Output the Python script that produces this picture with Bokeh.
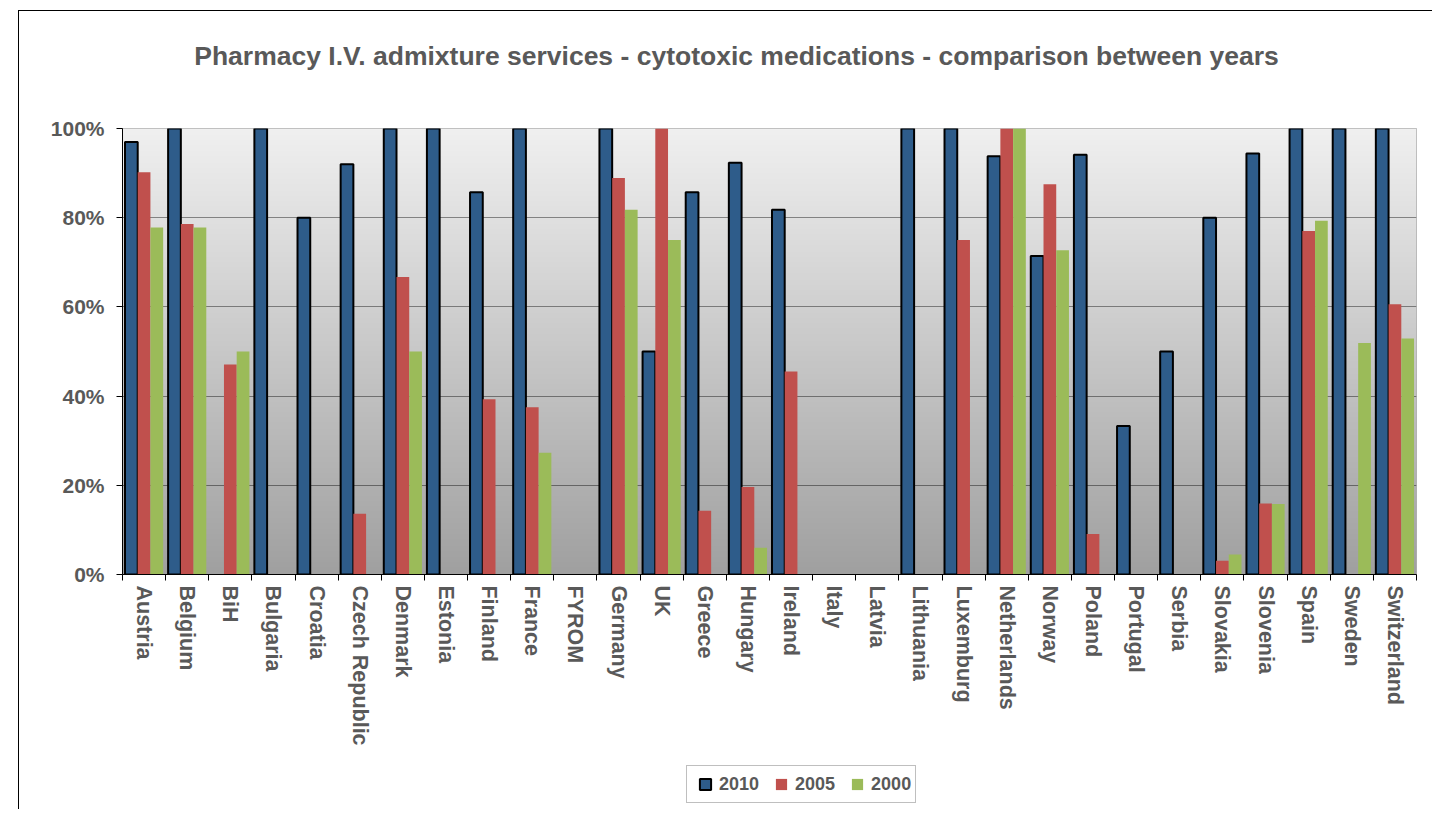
import numpy as np
from bokeh.plotting import figure
from bokeh.layouts import column
from bokeh.models import (Range1d, FixedTicker, PrintfTickFormatter, Legend, LegendItem,
                          ColumnDataSource, Label)
from bokeh.transform import dodge
from bokeh.embed import file_html
from bokeh.resources import INLINE

nan = float("nan")

countries = ["Austria", "Belgium", "BiH", "Bulgaria", "Croatia", "Czech Republic", "Denmark",
             "Estonia", "Finland", "France", "FYROM", "Germany", "UK", "Greece", "Hungary",
             "Ireland", "Italy", "Latvia", "Lithuania", "Luxemburg", "Netherlands", "Norway",
             "Poland", "Portugal", "Serbia", "Slovakia", "Slovenia", "Spain", "Sweden",
             "Switzerland"]

v2010 = [97.0, 100, nan, 100, 80, 92.0, 100, 100, 85.7, 100, nan, 100, 50, 85.7, 92.3,
         81.8, nan, nan, 100, 100, 93.8, 71.4, 94.1, 33.3, 50, 80, 94.4, 100, 100, 100]
v2005 = [90.2, 78.6, 47.1, nan, nan, 13.6, 66.7, nan, 39.3, 37.5, nan, 88.9, 100, 14.3, 19.6,
         45.5, nan, nan, nan, 75, 100, 87.5, 9.1, nan, nan, 3.1, 15.9, 77.0, nan, 60.6]
v2000 = [77.8, 77.8, 50, nan, nan, nan, 50, nan, nan, 27.3, nan, 81.8, 75, nan, 6.0,
         nan, nan, nan, nan, nan, 100, 72.7, nan, nan, nan, 4.5, 15.8, 79.3, 51.9, 52.9]

years = ["2010", "2005", "2000"]
y_ticks = [0, 20, 40, 60, 80, 100]
title_text = "Pharmacy I.V. admixture services - cytotoxic medications - comparison between years"

FONT = "Liberation Sans"
TXT = "#595959"
colors = ["#2E5C8A", "#C0504D", "#9BBB59"]
W = 1413

n = len(countries)
pos = [i + 0.5 for i in range(n)]
src = ColumnDataSource(dict(pos=pos, c=countries, a=v2010, b=v2005, g=v2000))


def blank_fig(h):
    f = figure(width=W, height=h, x_range=Range1d(0, 1), y_range=Range1d(0, 1),
               x_axis_type=None, y_axis_type=None, output_backend="svg",
               toolbar_location=None, min_border=0)
    f.outline_line_color = None
    f.background_fill_color = "white"
    f.border_fill_color = "white"
    f.xgrid.visible = False
    f.ygrid.visible = False
    return f


# ---- title strip ----
pt = blank_fig(75)
pt.add_layout(Label(x=614, y=31, x_units="screen", y_units="screen", text=title_text,
                    text_align="center", text_baseline="alphabetic", text_font=FONT,
                    text_font_style="bold", text_font_size="26.5px", text_color=TXT))

# ---- main chart ----
p = figure(width=W, height=674, x_range=Range1d(0, n), y_range=Range1d(0, 100),
           output_backend="svg", toolbar_location=None,
           min_border_left=103, min_border_right=16, min_border_top=42, min_border_bottom=186)
p.border_fill_color = "white"
p.outline_line_color = "#b0b0b0"
p.outline_line_width = 1

# gradient plot background (styling only)
N = 256
img = np.empty((N, 1), dtype=np.uint32)
view = img.view(dtype=np.uint8).reshape((N, 1, 4))
gray = np.linspace(160, 240, N).astype(np.uint8)
view[:, 0, 0] = gray
view[:, 0, 1] = gray
view[:, 0, 2] = gray
view[:, 0, 3] = 255
p.image_rgba(image=[img], x=0, y=0, dw=n, dh=100, level="image")

bw = 0.295
p.vbar(x=dodge("pos", -bw, range=p.x_range), top="a", width=bw, source=src,
       fill_color=colors[0], line_color="black", line_width=2)
p.vbar(x=dodge("pos", 0, range=p.x_range), top="b", width=bw, source=src,
       fill_color=colors[1], line_color=None)
p.vbar(x=dodge("pos", bw, range=p.x_range), top="g", width=bw, source=src,
       fill_color=colors[2], line_color=None)

p.xaxis.ticker = FixedTicker(ticks=pos, minor_ticks=list(range(n + 1)))
p.xaxis.major_label_overrides = {pp: c for pp, c in zip(pos, countries)}
p.xaxis.major_label_orientation = "vertical"
p.xaxis.major_tick_out = 0
p.xaxis.major_tick_in = 0
p.xaxis.minor_tick_out = 6
p.xaxis.minor_tick_in = 0
p.xaxis.minor_tick_line_color = "black"
p.xaxis.axis_line_color = "black"
p.xaxis.major_label_standoff = 5
p.xaxis.major_label_text_font_size = "21.5px"

p.yaxis.ticker = FixedTicker(ticks=y_ticks)
p.yaxis.formatter = PrintfTickFormatter(format="%d%%")
p.yaxis.major_tick_out = 6
p.yaxis.major_tick_in = 0
p.yaxis.minor_tick_line_color = None
p.yaxis.major_tick_line_color = "black"
p.yaxis.axis_line_color = "black"
p.yaxis.major_label_standoff = 12
p.yaxis.major_label_text_font_size = "21px"

for ax in (p.xaxis, p.yaxis):
    ax.major_label_text_font = FONT
    ax.major_label_text_font_style = "bold"
    ax.major_label_text_color = TXT

p.xgrid.visible = False
p.ygrid.ticker = FixedTicker(ticks=[20, 40, 60, 80])
p.ygrid.grid_line_color = "black"
p.ygrid.grid_line_alpha = 0.42

# ---- legend strip ----
pl = blank_fig(49)
swatch = ColumnDataSource(dict(x=[nan], y=[nan]))
lr = [pl.scatter(x="x", y="y", marker="square", size=11, source=swatch,
                 fill_color=colors[0], line_color="black", line_width=2),
      pl.scatter(x="x", y="y", marker="square", size=11, source=swatch,
                 fill_color=colors[1], line_color=None),
      pl.scatter(x="x", y="y", marker="square", size=11, source=swatch,
                 fill_color=colors[2], line_color=None)]
legend = Legend(items=[LegendItem(label=y, renderers=[r]) for y, r in zip(years, lr)],
                orientation="horizontal", location=(564, 6))
legend.label_text_font = FONT
legend.label_text_font_style = "bold"
legend.label_text_font_size = "18px"
legend.label_text_color = TXT
legend.glyph_width = 28
legend.glyph_height = 28
legend.label_standoff = 0
legend.spacing = 8
legend.padding = 4
legend.margin = 0
legend.border_line_color = "#7f7f7f"
legend.border_line_width = 1
legend.background_fill_color = "white"
legend.background_fill_alpha = 1
pl.add_layout(legend)

layout = column(pt, p, pl, spacing=0)
layout.margin = (10, 0, 0, 18)
layout.styles = {"border-left": "1px solid #000000", "border-top": "1px solid #000000"}

open("out.html", "w").write(file_html(layout, INLINE))
